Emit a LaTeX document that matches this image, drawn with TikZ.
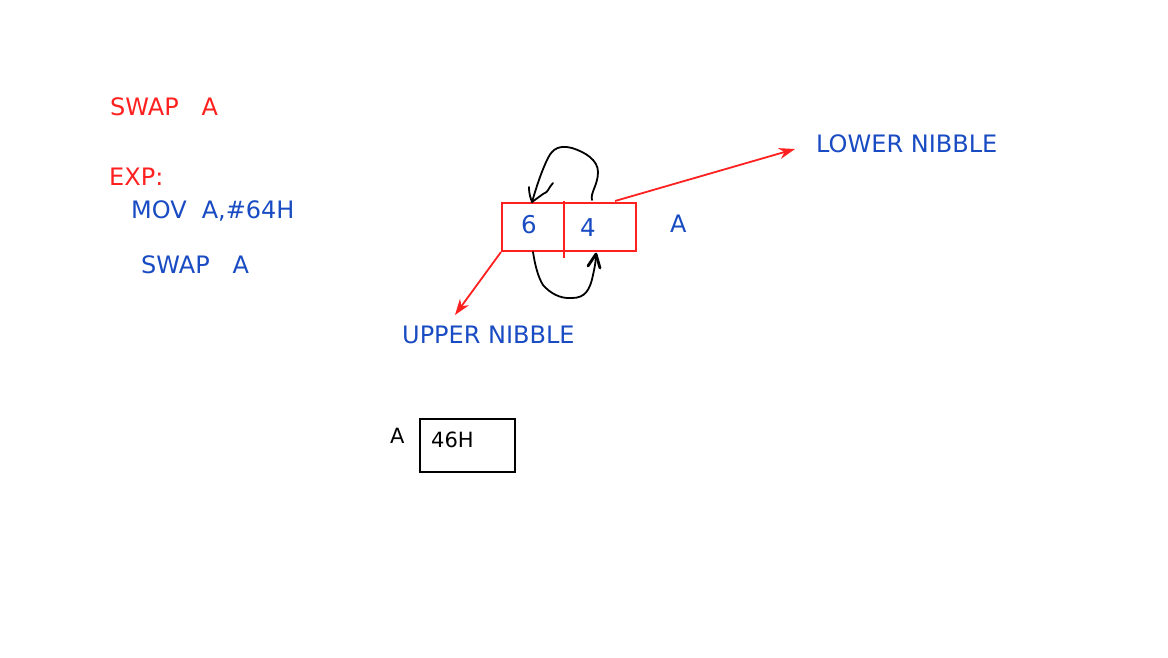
\documentclass[tikz,border=0pt]{standalone}
\usepackage{fontspec}
\setmainfont{DejaVu Sans}
\usetikzlibrary{arrows.meta}
\definecolor{myred}{RGB}{255,32,32}
\definecolor{myblue}{RGB}{25,75,195}
\begin{document}
\begin{tikzpicture}[x=1pt,y=-1pt,
  txt/.style={anchor=base west,inner sep=0pt,font=\fontsize{24}{27}\selectfont},
  redtxt/.style={txt,text=myred},
  bluetxt/.style={txt,text=myblue},
  blacktxt/.style={anchor=base west,inner sep=0pt,font=\fontsize{21}{24}\selectfont},
  redline/.style={draw=myred,line width=2pt},
  redarrow/.style={draw=myred,line width=1.8pt,-{Stealth[length=16pt,width=11pt,inset=5pt]}},
  hand/.style={draw=black,line width=1.8pt,line cap=round,line join=round}]
\useasboundingbox[fill=white] (0,0) rectangle (1168,657);

% code text
\node[redtxt] (t1) at (110,115) {SWAP\hspace{23pt}A};
\node[redtxt] (t2) at (109,185) {EXP:};
\node[bluetxt] (t3) at (131,218) {MOV\hspace{15pt}A,\#64H};
\node[bluetxt] (t4) at (141,273) {SWAP\hspace{23pt}A};

% register
\node[redline,minimum width=134pt,minimum height=48pt,inner sep=0pt] (reg) at (569,227) {};
\coordinate (divtop) at (564,201);
\coordinate (divbot) at (564,258);
\draw[redline] (divtop) -- (divbot);
\node[anchor=base west,inner sep=0pt,text=myblue,font=\fontsize{24.5}{28}\selectfont] (d6) at (521,233) {6};
\node[anchor=base west,inner sep=0pt,text=myblue,font=\fontsize{24.5}{28}\selectfont] (d4) at (580,236) {4};
\node[bluetxt] (ra) at (670,232) {A};

% labels
\node[bluetxt] (lower) at (816,152) {LOWER NIBBLE};
\node[bluetxt] (upper) at (402,343) {UPPER NIBBLE};
\coordinate (lstart) at (615,201);
\coordinate (lend) at (795,149);
\coordinate (uend) at (455,315);
\draw[redarrow] (lstart) -- (lend);
\draw[redarrow] (reg.south west) -- (uend);

% hand-drawn swap arrows
\coordinate (tA) at (592,200);
\coordinate (tB) at (532,202);
\draw[hand] (tA) .. controls (590,193) and (598,185) .. (598,172)
  .. controls (598,160) and (585,152) .. (572,148)
  .. controls (560,145) and (553,148) .. (548,158)
  .. controls (542,170) and (537,185) .. (tB);
\draw[hand] (529,187) .. controls (529,195) and (531,199) .. (tB);
\draw[hand] (553,183) .. controls (548,188) and (549,192) .. (543,194) -- (tB);

\coordinate (bA) at (533,252);
\coordinate (bB) at (596,254);
\draw[hand] (bA) .. controls (535,265) and (538,277) .. (543,285)
  .. controls (550,293) and (560,299) .. (572,298)
  .. controls (585,298) and (590,290) .. (593,275)
  .. controls (595,266) and (596,260) .. (bB);
\draw[hand,line width=2.8pt] (588,266) -- (bB) -- (600,268);

% result
\node[blacktxt] (la) at (390,443) {A};
\node[draw=black,line width=1.8pt,minimum width=95pt,minimum height=53pt,inner sep=0pt] (res) at (467.5,445.5) {};
\node[blacktxt] (val) at (431,447) {46H};
\end{tikzpicture}
\end{document}
